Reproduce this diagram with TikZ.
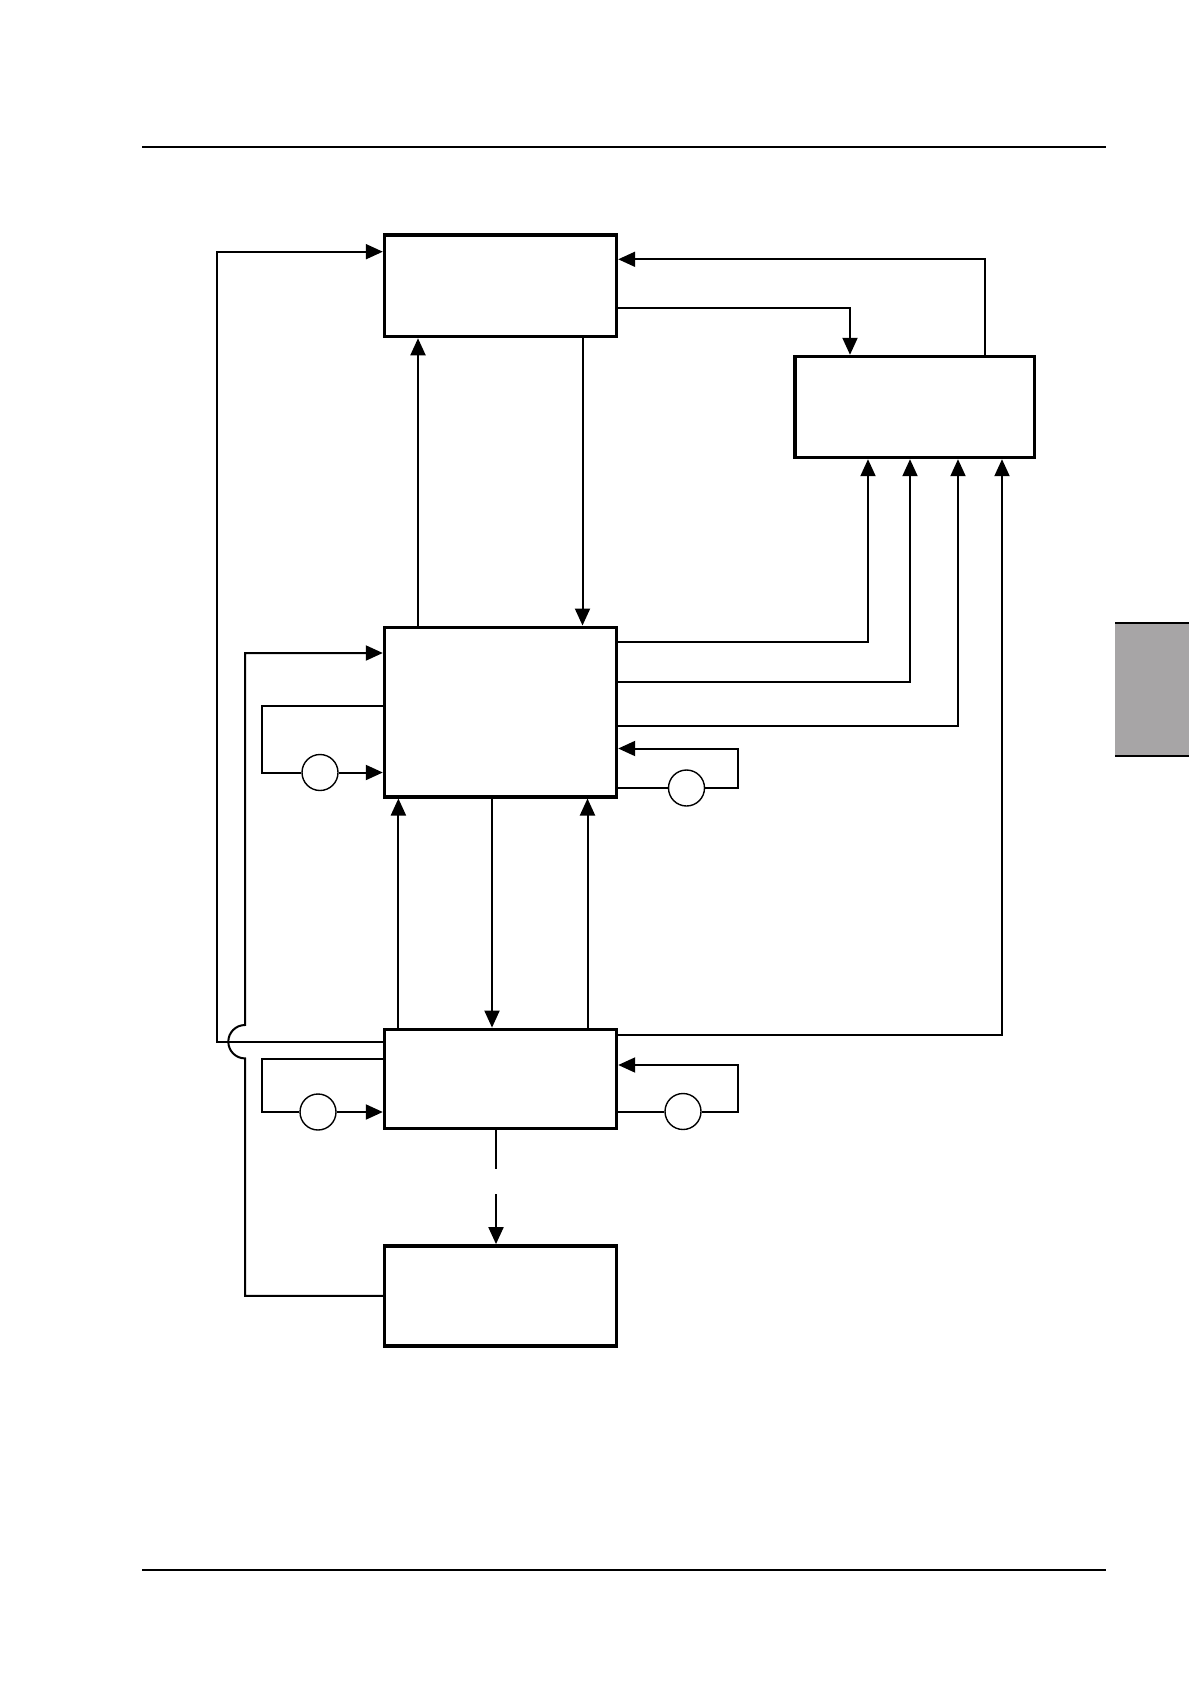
\documentclass[tikz,border=0pt]{standalone}
\usetikzlibrary{arrows.meta, positioning}
\definecolor{tabgrey}{RGB}{167,165,166}

\begin{document}
\begin{tikzpicture}[
    x=0.5pt, y=-0.5pt, % one unit is one pixel of the page
    block/.style={draw, line width=1.7pt, minimum width=116pt, inner sep=0pt},
    knot/.style={draw, circle, line width=0.7pt, minimum size=18pt, inner sep=0pt},
    flow/.style={line width=1pt},
    >={Triangle[length=8.5pt, width=7.5pt]}
]
    \useasboundingbox (0,0) rectangle (1191,1684);

    % page rules and the grey tab
    \draw [line width=1pt] (142,147) -- (1106,147);
    \draw [line width=1pt] (142,1570) -- (1106,1570);
    \fill [tabgrey] (1115,623) rectangle (1189,756);
    \draw [line width=1pt] (1115,623) -- (1189,623);
    \draw [line width=1pt] (1115,756) -- (1189,756);

    % Place the nodes
    \node (a) [block, minimum height=50.8pt] at (500.5,285.8) {};
    \node (b) [block, minimum width=119.7pt, minimum height=50.5pt] at (914.5,407) {};
    \node (c) [block, minimum height=84.8pt] at (500.5,712) {};
    \node (d) [block, minimum height=49.5pt] at (500.5,1078.8) {};
    \node (e) [block, minimum height=50pt] at (500.5,1295.8) {};

    \node (cl) [knot] at (320,772.5) {};
    \node (cr) [knot] at (686.5,788) {};
    \node (dl) [knot] at (318,1112) {};
    \node (dr) [knot] at (683,1111.5) {};

    % outer feedback lines on the left
    \draw [flow, ->] (d.west |- 0,1041.7) -- (217,1041.7) -- (217,251.7) -- (a.west |- 0,251.7);
    \draw [flow, ->] (e.west) -- (245,1295.8) -- (245,1058.4)
        arc [start angle=270, end angle=90, radius=8.35pt] -- (245,653) -- (c.west |- 0,653);

    % top and right boxes
    \draw [flow, ->] (c.north -| 418,0) -- (a.south -| 418,0);
    \draw [flow, ->] (a.south -| 582.5,0) -- (c.north -| 582.5,0);
    \draw [flow, ->] (a.east |- 0,308.3) -| (b.north -| 850,0);
    \draw [flow, ->] (b.north -| 985,0) |- (a.east |- 0,259.3);

    \draw [flow, ->] (c.east |- 0,642) -| (b.south -| 868,0);
    \draw [flow, ->] (c.east |- 0,682) -| (b.south -| 910,0);
    \draw [flow, ->] (c.east |- 0,726) -| (b.south -| 958,0);
    \draw [flow, ->] (d.east |- 0,1035.3) -| (b.south -| 1002,0);

    % self loops through the circles
    \draw [flow] (c.west |- 0,705.7) -- (262,705.7) |- (cl);
    \draw [flow, ->] (cl) -- (c.west |- cl);
    \draw [flow] (c.east |- cr) -- (cr);
    \draw [flow, ->] (cr) -- (738,788) |- (c.east |- 0,748.5);

    \draw [flow] (d.west |- 0,1059.3) -- (262,1059.3) |- (dl);
    \draw [flow, ->] (dl) -- (d.west |- dl);
    \draw [flow] (d.east |- dr) -- (dr);
    \draw [flow, ->] (dr) -- (738,1111.5) |- (d.east |- 0,1065);

    % links between the middle and lower boxes
    \draw [flow, ->] (d.north -| 398.4,0) -- (c.south -| 398.4,0);
    \draw [flow, ->] (c.south -| 492,0) -- (d.north -| 492,0);
    \draw [flow, ->] (d.north -| 587.5,0) -- (c.south -| 587.5,0);
    \draw [flow, ->, dash pattern=on 19.5pt off 12.5pt] (d.south -| 496,0) -- (e.north -| 496,0);
\end{tikzpicture}
\end{document}
